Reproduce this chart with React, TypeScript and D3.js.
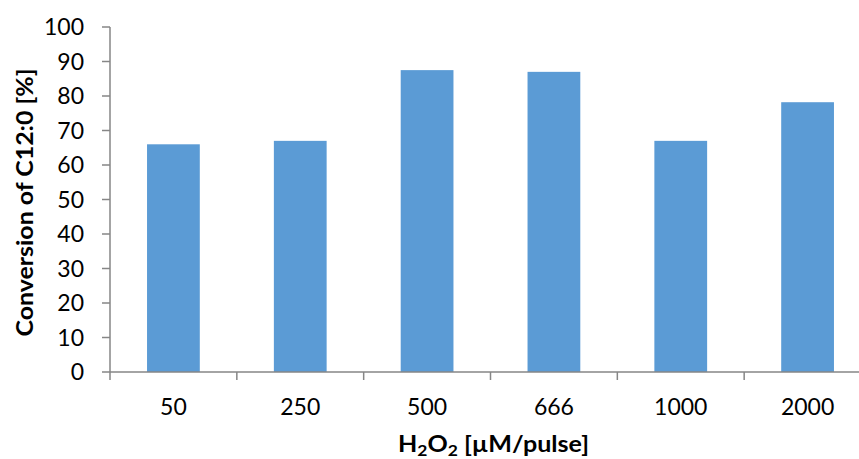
import React from "react";
import * as d3 from "d3";

const categories = ["50", "250", "500", "666", "1000", "2000"];
const values = [66, 67, 87.5, 87, 67, 78.2];
const yTicks = [0, 10, 20, 30, 40, 50, 60, 70, 80, 90, 100];

const W = 859;
const H = 459;
const left = 110;
const right = 871;
const top = 27;
const bottom = 372;
const font = "Lato, 'Open Sans', sans-serif";
const axisColor = "#868686";

export default function App() {
  const x = d3.scaleBand<string>().domain(categories).range([left, right]).paddingInner(0.584).paddingOuter(0.292);
  const step = x.step();
  const y = d3.scaleLinear().domain([0, 100]).range([bottom, top]);
  const boundaries = d3.range(categories.length + 1).map((i) => left + i * step);

  return (
    <svg width={W} height={H} style={{ position: "absolute", left: 0, top: 0, background: "#fff" }}>
      {categories.map((c, i) => (
        <rect key={c} x={x(c)} y={y(values[i])} width={x.bandwidth()} height={y(0) - y(values[i])} fill="#5B9BD5" />
      ))}
      <line x1={left} x2={left} y1={top} y2={bottom} stroke={axisColor} strokeWidth={1.5} />
      {yTicks.map((t) => (
        <g key={t}>
          <line x1={left - 8} x2={left} y1={y(t)} y2={y(t)} stroke={axisColor} strokeWidth={1.5} />
          <text x={84} y={y(t)} dy="0.36em" textAnchor="end" fontFamily={font} fontSize={23} fill="#000">
            {t}
          </text>
        </g>
      ))}
      <line x1={left} x2={right} y1={bottom} y2={bottom} stroke={axisColor} strokeWidth={1.5} />
      {boundaries.map((b, i) => (
        <line key={i} x1={b} x2={b} y1={bottom} y2={bottom + 8} stroke={axisColor} strokeWidth={1.5} />
      ))}
      {categories.map((c) => (
        <text key={c} x={(x(c) as number) + x.bandwidth() / 2} y={415} textAnchor="middle" fontFamily={font} fontSize={23} fill="#000">
          {c}
        </text>
      ))}
      <text x={493.5} y={452} textAnchor="middle" fontFamily={font} fontSize={23} fontWeight="bold" fill="#000" textLength={191} lengthAdjust="spacingAndGlyphs">
        H<tspan dy="4" fontSize={16}>2</tspan><tspan dy="-4">O</tspan><tspan dy="4" fontSize={16}>2</tspan><tspan dy="-4"> [µM/pulse]</tspan>
      </text>
      <text transform={`translate(33, 202.5) rotate(-90)`} textAnchor="middle" fontFamily={font} fontSize={23} fontWeight="bold" fill="#000" textLength={268} lengthAdjust="spacingAndGlyphs">
        Conversion of C12:0 [%]
      </text>
    </svg>
  );
}
